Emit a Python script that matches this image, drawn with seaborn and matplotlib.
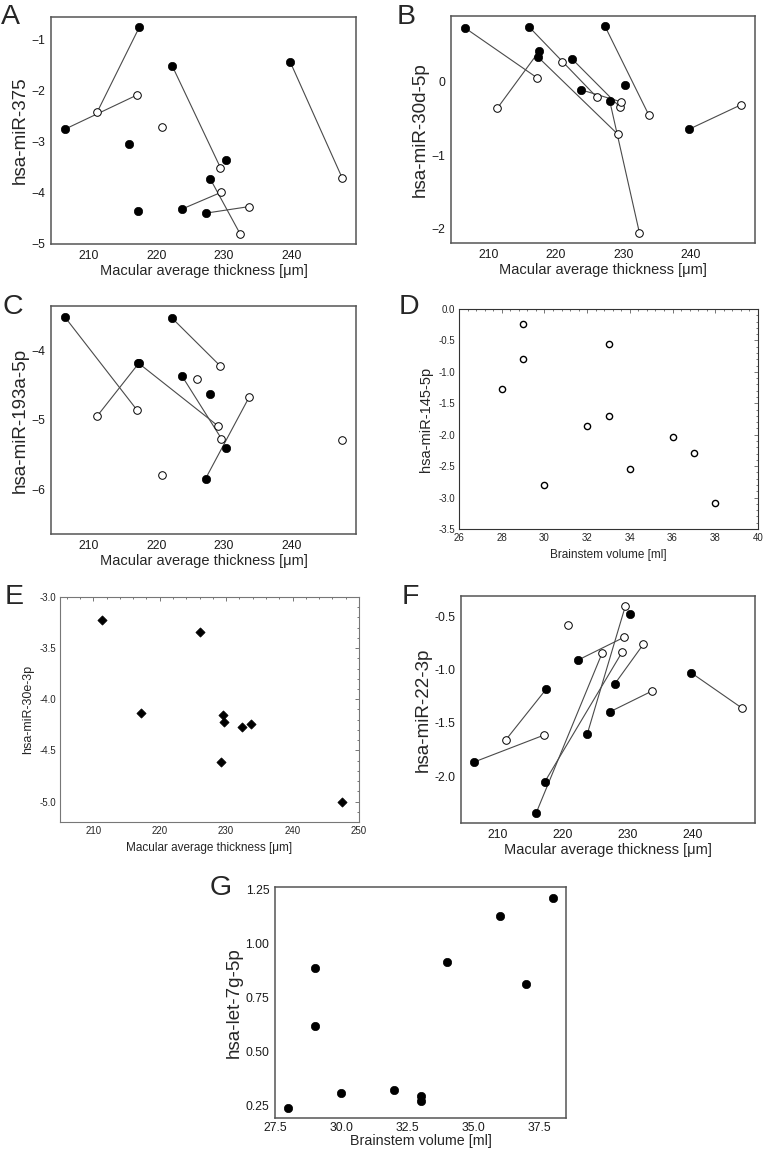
import numpy as np
import pandas as pd
import matplotlib.pyplot as plt
import seaborn as sns
from matplotlib.ticker import FormatStrFormatter, AutoMinorLocator

nan = np.nan

# Macular average thickness [um] per subject; filled = one eye, open = other eye
filled_x = [206.5, 216.0, 217.3, 217.5, 222.4, 223.8, 227.3, 228.0, 230.3, 239.8, nan]
open_x = [217.2, 226.1, 229.2, 211.3, 229.5, 229.65, 233.8, 232.4, nan, 247.5, 220.9]

# A: hsa-miR-375
mir375_filled = [-2.76, -3.04, -4.35, -0.77, -1.53, -4.32, -4.40, -3.73, -3.37, -1.44, nan]
mir375_open = [-2.09, nan, nan, -2.42, -3.51, -3.99, -4.27, -4.80, nan, -3.71, -2.72]

# B: hsa-miR-30d-5p
mir30d_filled = [0.72, 0.735, 0.33, 0.40, 0.30, -0.12, 0.74, -0.27, -0.06, -0.65, nan]
mir30d_open = [0.045, -0.22, -0.72, -0.37, -0.35, -0.28, -0.46, -2.05, nan, -0.32, 0.26]

# C: hsa-miR-193a-5p
mir193a_filled = [-3.51, nan, -4.17, -4.17, -3.53, -4.36, -5.85, -4.63, -5.41, nan, nan]
mir193a_open = [-4.86, -4.40, -5.09, -4.94, -4.22, -5.27, -4.66, nan, nan, -5.29, -5.79]

# F: hsa-miR-22-3p
mir22_filled = [-1.866, -2.342, -2.053, -1.185, -0.911, -1.608, -1.396, -1.138, -0.478, -1.032, nan]
mir22_open = [-1.614, -0.845, -0.833, -1.661, -0.696, -0.407, -1.200, -0.765, nan, -1.359, -0.584]

# D: hsa-miR-145-5p vs brainstem volume
brainstem_d = [28, 29, 29, 30, 32, 33, 33, 34, 36, 37, 38]
mir145 = [-1.276, -0.238, -0.789, -2.796, -1.869, -0.561, -1.705, -2.547, -2.033, -2.293, -3.092]

# E: hsa-miR-30e-3p vs macular thickness
thick_e = [211.3, 217.2, 226.1, 229.2, 229.5, 229.65, 232.4, 233.8, 247.5]
mir30e = [-3.22, -4.13, -3.34, -4.61, -4.15, -4.22, -4.27, -4.24, -5.00]

# G: hsa-let-7g-5p vs brainstem volume
brainstem_g = [28, 29, 29, 30, 32, 33, 33, 34, 36, 37, 38]
let7g = [0.242, 0.889, 0.618, 0.308, 0.325, 0.297, 0.272, 0.916, 1.127, 0.815, 1.213]

W, H = 764, 1151
GG_XLABEL = 'Macular average thickness [\u03bcm]'


def add_axes_px(fig, left, top, right, bottom):
    return fig.add_axes([left / W, 1 - bottom / H, (right - left) / W, (bottom - top) / H])


def expanded(values, mult=0.05):
    lo, hi = np.nanmin(values), np.nanmax(values)
    pad = (hi - lo) * mult
    return lo - pad, hi + pad


def style_gg(ax):
    for s in ax.spines.values():
        s.set_visible(True)
        s.set_color('#555555')
        s.set_linewidth(1.1)
    ax.tick_params(length=2.5, width=0.8, color='#808080', labelsize=8.7,
                   labelcolor='#1a1a1a', pad=1.5)


def paired_panel(ax, fy, oy, ylabel):
    # connecting lines between the two eyes of one subject
    for fx_, fy_, ox_, oy_ in zip(filled_x, fy, open_x, oy):
        if not (np.isnan(fy_) or np.isnan(oy_)):
            ax.plot([fx_, ox_], [fy_, oy_], color='#4a4a4a', lw=0.8, zorder=1)
    df_f = pd.DataFrame({'x': filled_x, 'y': fy}).dropna()
    df_o = pd.DataFrame({'x': open_x, 'y': oy}).dropna()
    sns.scatterplot(data=df_f, x='x', y='y', ax=ax, color='black', edgecolor='black',
                    s=36, linewidth=0.5, zorder=3)
    sns.scatterplot(data=df_o, x='x', y='y', ax=ax, color='white', edgecolor='black',
                    s=30, linewidth=0.7, zorder=3)
    ax.set_xlim(expanded(filled_x + open_x))
    ax.set_ylim(expanded(fy + oy))
    ax.set_xticks([210, 220, 230, 240])
    style_gg(ax)
    ax.set_xlabel(GG_XLABEL, fontsize=10.5, labelpad=2)
    ax.set_ylabel(ylabel, fontsize=13.5, labelpad=2)


def style_stat(ax, framecolor):
    for s in ax.spines.values():
        s.set_visible(True)
        s.set_color(framecolor)
        s.set_linewidth(0.8)
    ax.xaxis.set_minor_locator(AutoMinorLocator(5))
    ax.yaxis.set_minor_locator(AutoMinorLocator(5))
    ax.tick_params(which='both', direction='in', top=True, right=True,
                   color='#606060', width=0.6, labelsize=7, pad=3)
    ax.tick_params(which='major', length=3)
    ax.tick_params(which='minor', length=1.5)


sns.set_theme(style='white')
plt.rcParams['font.family'] = ['Liberation Sans', 'DejaVu Sans']

fig = plt.figure(figsize=(W / 100, H / 100), dpi=100)

# A
ax = add_axes_px(fig, 51, 17, 356, 244)
paired_panel(ax, mir375_filled, mir375_open, 'hsa-miR-375')
ax.set_yticks([-5, -4, -3, -2, -1])

# B
ax = add_axes_px(fig, 451, 16, 755, 243)
paired_panel(ax, mir30d_filled, mir30d_open, 'hsa-miR-30d-5p')
ax.set_yticks([-2, -1, 0])

# C
ax = add_axes_px(fig, 51, 306, 356, 534)
paired_panel(ax, mir193a_filled, mir193a_open, 'hsa-miR-193a-5p')
ax.set_ylim(expanded([-6.5, -3.5]))
ax.set_yticks([-6, -5, -4])

# D
ax = add_axes_px(fig, 459, 309, 758, 529)
sns.scatterplot(x=brainstem_d, y=mir145, ax=ax, color='white', edgecolor='black',
                s=20, linewidth=1.0, zorder=3)
ax.set_xlim(26, 40)
ax.set_ylim(-3.5, 0)
ax.set_xticks(np.arange(26, 41, 2))
ax.set_yticks(np.arange(-3.5, 0.01, 0.5))
ax.yaxis.set_major_formatter(FormatStrFormatter('%.1f'))
style_stat(ax, '#333333')
ax.set_xlabel('Brainstem volume [ml]', fontsize=8.5, labelpad=4)
ax.set_ylabel('hsa-miR-145-5p', fontsize=10.5, labelpad=4)

# E
ax = add_axes_px(fig, 60, 597, 359, 822)
sns.scatterplot(x=thick_e, y=mir30e, ax=ax, color='black', marker='D', edgecolor='black',
                s=22, linewidth=0.5, zorder=3)
ax.set_xlim(205, 250)
ax.set_ylim(-5.2, -3.0)
ax.set_xticks([210, 220, 230, 240, 250])
ax.set_yticks(np.arange(-5.0, -2.99, 0.5))
ax.yaxis.set_major_formatter(FormatStrFormatter('%.1f'))
style_stat(ax, '#777777')
ax.set_xlabel('Macular average thickness [\u03bcm]', fontsize=8.5, labelpad=4)
ax.set_ylabel('hsa-miR-30e-3p', fontsize=9, labelpad=4)

# F
ax = add_axes_px(fig, 461, 596, 755, 823)
paired_panel(ax, mir22_filled, mir22_open, 'hsa-miR-22-3p')
ax.set_yticks([-2.0, -1.5, -1.0, -0.5])
ax.yaxis.set_major_formatter(FormatStrFormatter('%.1f'))

# G
ax = add_axes_px(fig, 275, 887, 566, 1118)
sns.scatterplot(x=brainstem_g, y=let7g, ax=ax, color='black', edgecolor='black',
                s=36, linewidth=0.5, zorder=3)
ax.set_xlim(expanded(brainstem_g))
ax.set_ylim(expanded(let7g))
ax.set_xticks([27.5, 30.0, 32.5, 35.0, 37.5])
ax.set_yticks([0.25, 0.50, 0.75, 1.00, 1.25])
ax.xaxis.set_major_formatter(FormatStrFormatter('%.1f'))
ax.yaxis.set_major_formatter(FormatStrFormatter('%.2f'))
style_gg(ax)
ax.tick_params(axis='x', pad=0.5)
ax.set_xlabel('Brainstem volume [ml]', fontsize=10.3, labelpad=0)
ax.set_ylabel('hsa-let-7g-5p', fontsize=13.5, labelpad=2)

# panel letters
letters = [('A', 1, 4), ('B', 397, 4), ('C', 2, 294), ('D', 399, 294),
           ('E', 5, 584), ('F', 402, 584), ('G', 210, 875)]
for letter, lx, ly in letters:
    fig.text(lx / W, 1 - ly / H, letter, fontsize=20.5, ha='left', va='top')

fig.savefig('out.png', dpi=100)
